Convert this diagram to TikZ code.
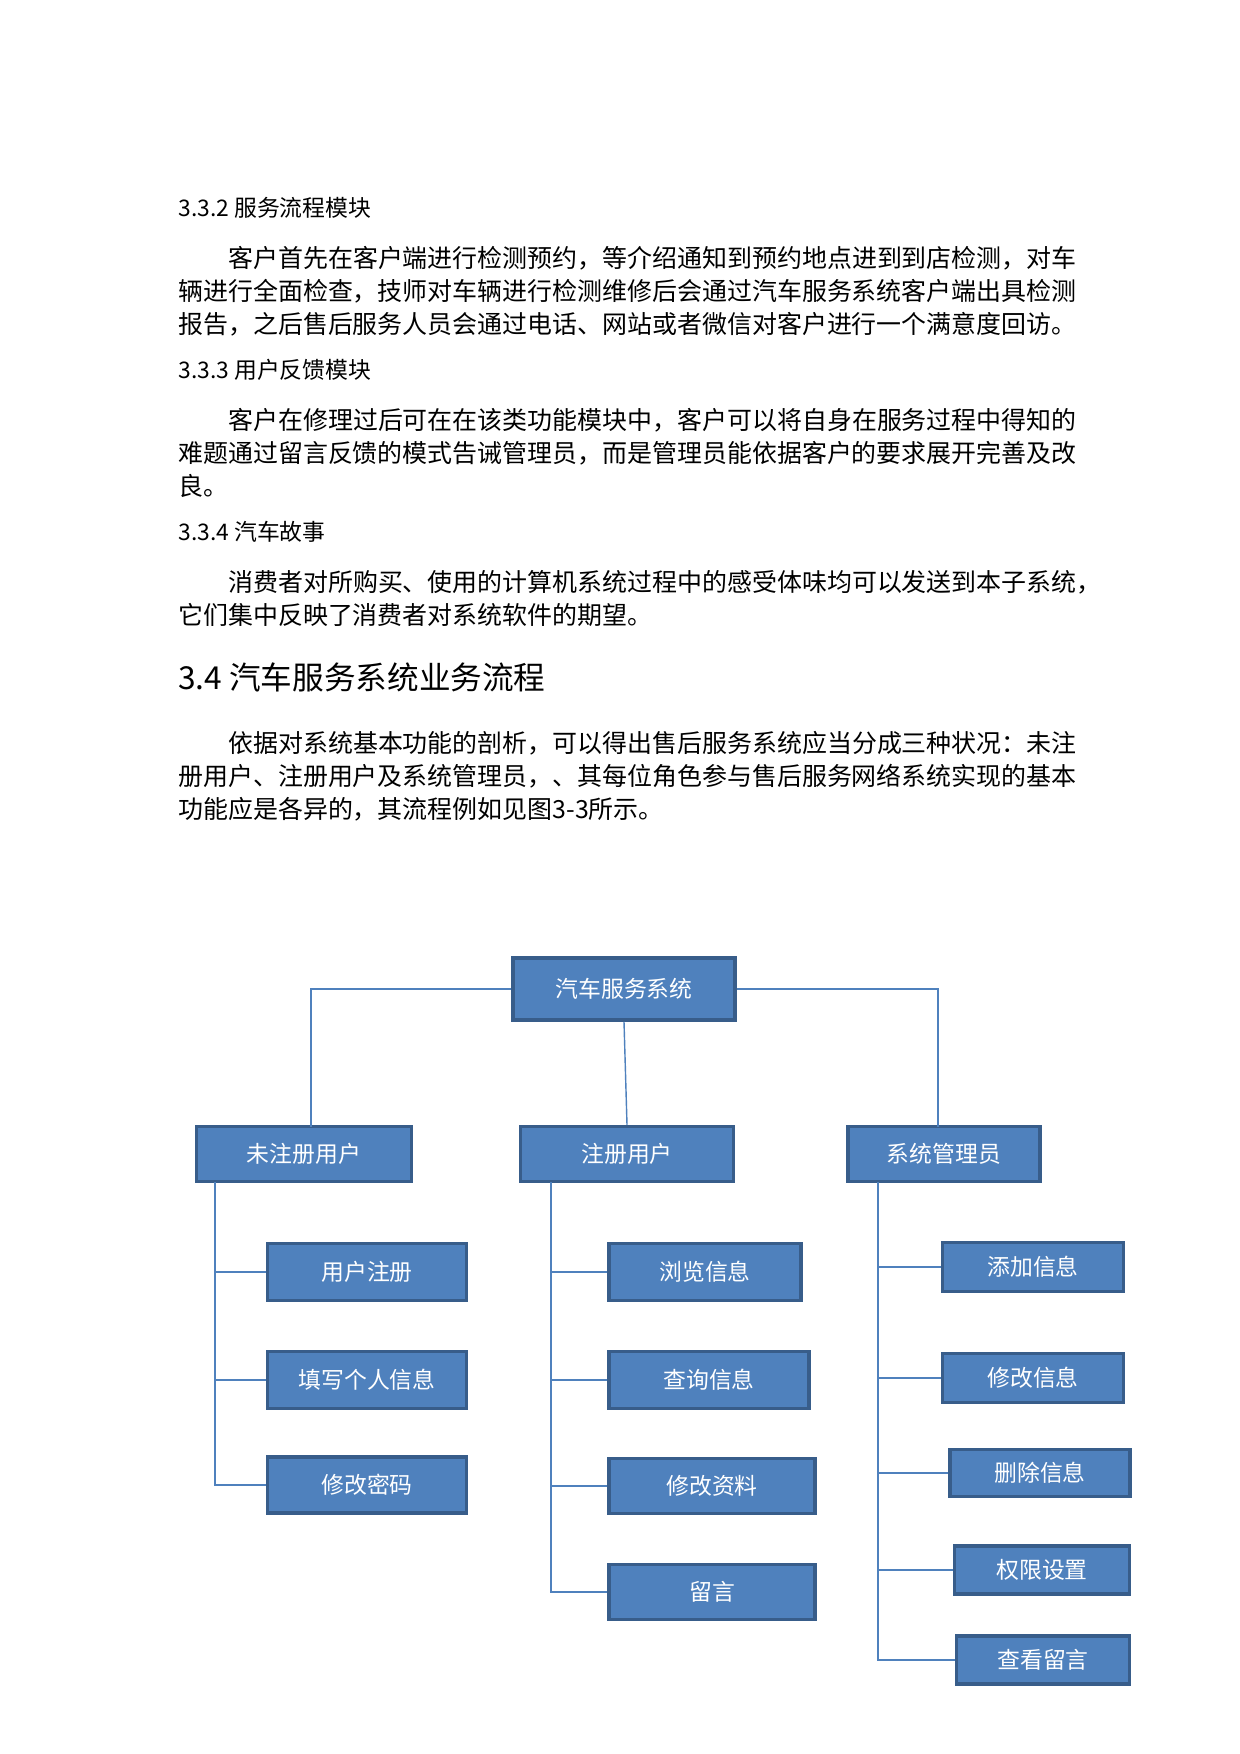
\documentclass[tikz,border=0pt]{standalone}
\usepackage{fontspec}
\setmainfont{Noto Sans CJK SC}
\usetikzlibrary{positioning}
\definecolor{boxfill}{HTML}{4F81BD}
\definecolor{boxline}{HTML}{385D8A}
\tikzset{
  body/.style={anchor=west, inner sep=0pt, font=\fontsize{14.2}{18}\selectfont},
  head/.style={anchor=west, inner sep=0pt, font=\fontsize{13}{16}\selectfont},
  box/.style={draw=boxline, line width=2pt, fill=boxfill, text=white, inner sep=0pt,
    font=\fontsize{13}{16}\selectfont},
  link/.style={draw=boxfill, line width=0.8pt}
}
\begin{document}
\begin{tikzpicture}[x=0.02cm, y=-0.02cm]
    \useasboundingbox (0,0) rectangle (1240,1754);

    % --- Text ---
    \node[head] (h1) at (178,208) {3.3.2 服务流程模块};
    \node[body] (p11) at (228,258) {客户首先在客户端进行检测预约，等介绍通知到预约地点进到到店检测，对车};
    \node[body] (p12) at (178,291) {辆进行全面检查，技师对车辆进行检测维修后会通过汽车服务系统客户端出具检测};
    \node[body] (p13) at (178,324) {报告，之后售后服务人员会通过电话、网站或者微信对客户进行一个满意度回访。};
    \node[head] (h2) at (178,370) {3.3.3 用户反馈模块};
    \node[body] (p21) at (228,420) {客户在修理过后可在在该类功能模块中，客户可以将自身在服务过程中得知的};
    \node[body] (p22) at (178,453) {难题通过留言反馈的模式告诫管理员，而是管理员能依据客户的要求展开完善及改};
    \node[body] (p23) at (178,486) {良。};
    \node[head] (h3) at (178,532) {3.3.4 汽车故事};
    \node[body] (p31) at (228,582) {消费者对所购买、使用的计算机系统过程中的感受体味均可以发送到本子系统，};
    \node[body] (p32) at (178,615) {它们集中反映了消费者对系统软件的期望。};
    \node[head, font=\fontsize{18}{22}\selectfont] (h4) at (178,677) {3.4 汽车服务系统业务流程};
    \node[body] (p41) at (228,743) {依据对系统基本功能的剖析，可以得出售后服务系统应当分成三种状况：未注};
    \node[body] (p42) at (178,776) {册用户、注册用户及系统管理员，、其每位角色参与售后服务网络系统实现的基本};
    \node[body] (p43) at (178,809) {功能应是各异的，其流程例如见图3-3所示。};

    % --- Boxes ---
    \node[box, minimum width=222*0.02cm, minimum height=62*0.02cm] (root) at (624,989) {汽车服务系统};
    \node[box, minimum width=215*0.02cm, minimum height=55*0.02cm] (guest) at (304,1154) {未注册用户};
    \node[box, minimum width=213*0.02cm, minimum height=55*0.02cm] (user) at (627,1154) {注册用户};
    \node[box, minimum width=192*0.02cm, minimum height=55*0.02cm] (admin) at (944,1154) {系统管理员};

    \node[box, minimum width=199*0.02cm, minimum height=57*0.02cm] (g1) at (367,1272) {用户注册};
    \node[box, minimum width=199*0.02cm, minimum height=57*0.02cm] (g2) at (367,1380) {填写个人信息};
    \node[box, minimum width=199*0.02cm, minimum height=56*0.02cm] (g3) at (367,1485) {修改密码};

    \node[box, minimum width=192*0.02cm, minimum height=57*0.02cm] (u1) at (705,1272) {浏览信息};
    \node[box, minimum width=200*0.02cm, minimum height=57*0.02cm] (u2) at (709,1380) {查询信息};
    \node[box, minimum width=206*0.02cm, minimum height=55*0.02cm] (u3) at (712,1486) {修改资料};
    \node[box, minimum width=206*0.02cm, minimum height=55*0.02cm] (u4) at (712,1592) {留言};

    \node[box, minimum width=181*0.02cm, minimum height=49*0.02cm] (a1) at (1033,1267) {添加信息};
    \node[box, minimum width=181*0.02cm, minimum height=49*0.02cm] (a2) at (1033,1378) {修改信息};
    \node[box, minimum width=180*0.02cm, minimum height=47*0.02cm] (a3) at (1040,1473) {删除信息};
    \node[box, minimum width=175*0.02cm, minimum height=48*0.02cm] (a4) at (1042,1570) {权限设置};
    \node[box, minimum width=173*0.02cm, minimum height=48*0.02cm] (a5) at (1043,1660) {查看留言};

    % --- Connectors from the root ---
    \coordinate (gtop) at (311,1127);
    \coordinate (atop) at (938,1127);
    \draw[link] (root.west) -| (gtop);
    \draw[link] (root.east) -| (atop);
    \draw[link] (root.south) -- (user.north);

    % --- Branch lines ---
    \coordinate (gv) at (215,1182);
    \coordinate (uv) at (551,1182);
    \coordinate (av) at (878,1182);
    \draw[link] (gv) -- (gv |- g3.west) -- (g3.west);
    \draw[link] (g1.west) -- (g1.west -| gv);
    \draw[link] (g2.west) -- (g2.west -| gv);
    \draw[link] (uv) -- (uv |- u4.west) -- (u4.west);
    \foreach \n in {u1,u2,u3}
      \draw[link] (\n.west) -- (\n.west -| uv);
    \draw[link] (av) -- (av |- a5.west) -- (a5.west);
    \foreach \n in {a1,a2,a3,a4}
      \draw[link] (\n.west) -- (\n.west -| av);
\end{tikzpicture}
\end{document}
